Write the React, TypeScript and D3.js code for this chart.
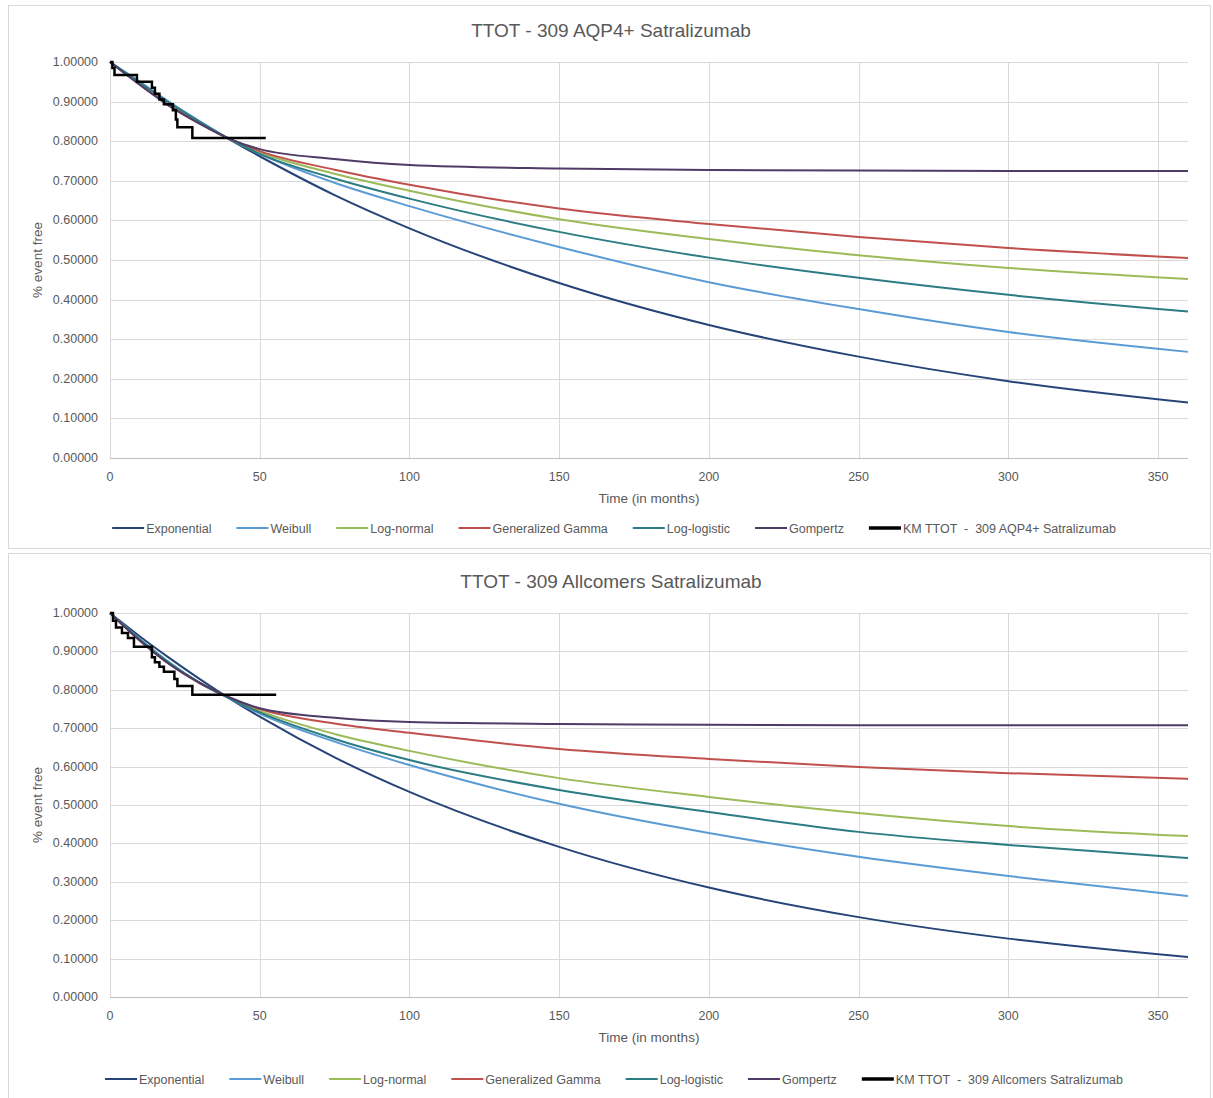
import React, { useEffect, useRef } from "react";
import * as d3 from "d3";

const times = [0, 10, 20, 30, 40, 50, 75, 100, 150, 200, 250, 300, 360];

const modelNames = [
  "Exponential",
  "Weibull",
  "Log-normal",
  "Generalized Gamma",
  "Log-logistic",
  "Gompertz",
];
const modelColors = ["#264478", "#5B9BD5", "#9BBB59", "#C0504D", "#2B7C83", "#4E3B66"];

// TTOT - 309 AQP4+
const aqpExponential = [1, 0.947, 0.897, 0.849, 0.804, 0.762, 0.664, 0.58, 0.442, 0.336, 0.256, 0.194, 0.14];
const aqpWeibull = [1, 0.95, 0.898, 0.85, 0.805, 0.768, 0.695, 0.636, 0.533, 0.444, 0.376, 0.318, 0.268];
const aqpLogNormal = [1, 0.945, 0.893, 0.847, 0.805, 0.772, 0.718, 0.675, 0.603, 0.553, 0.512, 0.48, 0.452];
const aqpGenGamma = [1, 0.943, 0.89, 0.845, 0.805, 0.775, 0.728, 0.69, 0.63, 0.591, 0.558, 0.53, 0.505];
const aqpLogLogistic = [1, 0.948, 0.896, 0.849, 0.805, 0.768, 0.706, 0.655, 0.571, 0.506, 0.455, 0.412, 0.37];
const aqpGompertz = [1, 0.942, 0.888, 0.844, 0.806, 0.78, 0.755, 0.74, 0.731, 0.727, 0.726, 0.725, 0.725];
const aqpKmTimes = [0, 0.8, 1.5, 9, 14, 15, 16.5, 18, 21, 22, 22.5, 27.5, 52];
const aqpKmSurv = [1, 0.985, 0.967, 0.95, 0.935, 0.92, 0.905, 0.893, 0.878, 0.855, 0.835, 0.808, 0.808];

// TTOT - 309 Allcomers
const allExponential = [1, 0.939, 0.882, 0.828, 0.777, 0.73, 0.624, 0.534, 0.391, 0.285, 0.208, 0.152, 0.104];
const allWeibull = [1, 0.932, 0.87, 0.818, 0.777, 0.738, 0.665, 0.604, 0.503, 0.427, 0.365, 0.315, 0.263];
const allLogNormal = [1, 0.93, 0.868, 0.818, 0.778, 0.745, 0.685, 0.641, 0.57, 0.521, 0.479, 0.445, 0.419];
const allGenGamma = [1, 0.928, 0.866, 0.817, 0.779, 0.75, 0.712, 0.688, 0.646, 0.62, 0.599, 0.583, 0.568];
const allLogLogistic = [1, 0.931, 0.869, 0.818, 0.777, 0.741, 0.672, 0.617, 0.539, 0.482, 0.43, 0.396, 0.362];
const allGompertz = [1, 0.928, 0.866, 0.818, 0.78, 0.752, 0.727, 0.716, 0.711, 0.709, 0.708, 0.708, 0.708];
const allKmTimes = [0, 1, 2, 4, 6, 8, 14, 15, 16.5, 18, 21.5, 22.5, 27.5, 55.5];
const allKmSurv = [1, 0.98, 0.962, 0.948, 0.935, 0.912, 0.885, 0.872, 0.86, 0.847, 0.828, 0.81, 0.787, 0.787];

const xTicks = [0, 50, 100, 150, 200, 250, 300, 350];
const yTicks = [0, 0.1, 0.2, 0.3, 0.4, 0.5, 0.6, 0.7, 0.8, 0.9, 1.0];

const FONT = "'Liberation Sans Narrow', 'Arial Narrow', 'Liberation Sans', sans-serif";

function Chart({ top, panelHeight, plotBottom, legendGap, title, models, kmTimes, kmSurv, kmLabel }) {
  const ref = useRef(null);

  useEffect(() => {
    const g = d3.select(ref.current);
    const plotTop = plotBottom - 396 + (plotBottom > 600 ? 12 : 0);
    const x = d3.scaleLinear().domain([0, 360]).range([110, 1188]);
    const y = d3.scaleLinear().domain([0, 1]).range([plotBottom, plotTop]);

    g.append("rect")
      .attr("x", 8.5)
      .attr("y", top + 0.5)
      .attr("width", 1202)
      .attr("height", panelHeight)
      .attr("fill", "#fff")
      .attr("stroke", "#d9d9d9");

    g.append("text")
      .attr("x", 611)
      .attr("y", plotTop - 25)
      .attr("text-anchor", "middle")
      .attr("font-size", 19)
      .attr("fill", "#595959")
      .text(title);

    // grid
    g.append("g")
      .selectAll("line")
      .data(yTicks)
      .join("line")
      .attr("x1", x(0))
      .attr("x2", x(360))
      .attr("y1", d => Math.round(y(d)) + 0.5)
      .attr("y2", d => Math.round(y(d)) + 0.5)
      .attr("stroke", "#d9d9d9");
    g.append("g")
      .selectAll("line")
      .data(xTicks)
      .join("line")
      .attr("x1", d => Math.round(x(d)) + 0.5)
      .attr("x2", d => Math.round(x(d)) + 0.5)
      .attr("y1", y(1))
      .attr("y2", y(0))
      .attr("stroke", "#d9d9d9");
    g.append("line")
      .attr("x1", x(0))
      .attr("x2", x(360))
      .attr("y1", Math.round(y(0)) + 0.5)
      .attr("y2", Math.round(y(0)) + 0.5)
      .attr("stroke", "#bfbfbf");

    g.append("g")
      .selectAll("text")
      .data(yTicks)
      .join("text")
      .attr("x", 98)
      .attr("y", d => y(d) + 4)
      .attr("text-anchor", "end")
      .attr("font-size", 12.5)
      .attr("fill", "#595959")
      .text(d => d.toFixed(5));
    g.append("g")
      .selectAll("text")
      .data(xTicks)
      .join("text")
      .attr("x", d => x(d))
      .attr("y", plotBottom + 23)
      .attr("text-anchor", "middle")
      .attr("font-size", 12.5)
      .attr("fill", "#595959")
      .text(d => d);

    g.append("text")
      .attr("x", 649)
      .attr("y", plotBottom + 45)
      .attr("text-anchor", "middle")
      .attr("font-size", 13.5)
      .attr("fill", "#595959")
      .text("Time (in months)");
    g.append("text")
      .attr("transform", `translate(42,${(plotTop + plotBottom) / 2}) rotate(-90)`)
      .attr("text-anchor", "middle")
      .attr("font-size", 13.5)
      .attr("fill", "#595959")
      .text("% event free");

    const line = d3
      .line()
      .x(d => x(d[0]))
      .y(d => y(d[1]))
      .curve(d3.curveMonotoneX);

    g.append("g")
      .selectAll("path")
      .data(models)
      .join("path")
      .attr("d", d => line(times.map((t, i) => [t, d.values[i]])))
      .attr("fill", "none")
      .attr("stroke", d => d.color)
      .attr("stroke-width", 2);

    const km = d3
      .line()
      .x(d => x(d[0]))
      .y(d => y(d[1]))
      .curve(d3.curveStepAfter);
    g.append("path")
      .attr("d", km(kmTimes.map((t, i) => [t, kmSurv[i]])))
      .attr("fill", "none")
      .attr("stroke", "#000")
      .attr("stroke-width", 2.5);

    // legend
    const items = models
      .map(m => ({ label: m.name, color: m.color, width: 2 }))
      .concat([{ label: kmLabel, color: "#000", width: 3.5 }]);
    const entries = g
      .append("g")
      .selectAll("g")
      .data(items)
      .join("g");
    entries
      .append("line")
      .attr("x1", 0)
      .attr("x2", 32)
      .attr("y1", 0)
      .attr("y2", 0)
      .attr("stroke", d => d.color)
      .attr("stroke-width", d => d.width);
    entries
      .append("text")
      .attr("x", 34)
      .attr("y", 4.5)
      .attr("font-size", 12.5)
      .attr("fill", "#595959")
      .attr("xml:space", "preserve")
      .text(d => d.label);
    const widths = [];
    entries.each(function () {
      widths.push(34 + this.querySelector("text").getComputedTextLength());
    });
    const gap = 25;
    const total = d3.sum(widths) + gap * (widths.length - 1);
    const start = 614 - total / 2;
    let offset = 0;
    entries.attr("transform", (d, i) => {
      const tx = start + offset;
      offset += widths[i] + gap;
      return `translate(${tx},${plotBottom + legendGap})`;
    });

    return () => {
      g.html("");
    };
  }, [top, panelHeight, plotBottom, legendGap, title, models, kmTimes, kmSurv, kmLabel]);

  return <g ref={ref} fontFamily={FONT} />;
}

const aqpValues = [aqpExponential, aqpWeibull, aqpLogNormal, aqpGenGamma, aqpLogLogistic, aqpGompertz];
const allValues = [allExponential, allWeibull, allLogNormal, allGenGamma, allLogLogistic, allGompertz];

const aqpModels = modelNames.map((name, i) => ({ name, color: modelColors[i], values: aqpValues[i] }));
const allModels = modelNames.map((name, i) => ({ name, color: modelColors[i], values: allValues[i] }));

export default function App() {
  return (
    <svg
      width={1213}
      height={1098}
      style={{ position: "absolute", left: 0, top: 0, background: "#fff" }}
    >
      <Chart
        top={5}
        panelHeight={543}
        plotBottom={458}
        legendGap={70}
        title="TTOT - 309 AQP4+ Satralizumab"
        models={aqpModels}
        kmTimes={aqpKmTimes}
        kmSurv={aqpKmSurv}
        kmLabel="KM TTOT  -  309 AQP4+ Satralizumab"
      />
      <Chart
        top={553}
        panelHeight={560}
        plotBottom={997}
        legendGap={82}
        title="TTOT - 309 Allcomers Satralizumab"
        models={allModels}
        kmTimes={allKmTimes}
        kmSurv={allKmSurv}
        kmLabel="KM TTOT  -  309 Allcomers Satralizumab"
      />
    </svg>
  );
}
